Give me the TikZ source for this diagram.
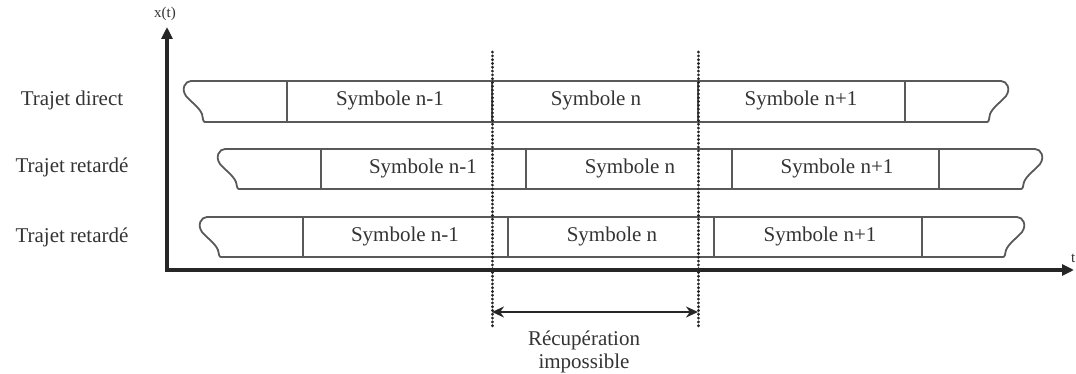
\documentclass[tikz,border=0pt]{standalone}
\usepackage{fontspec}
\setmainfont{Liberation Serif}
\usetikzlibrary{arrows.meta}
\newcommand\sigrow[4]{% top, bottom, left-most x, right-most x
\draw[boxline] ({#3+8},#1) -- ({#4-8},#1)
  .. controls ({#4-2},#1) and ({#4+2},{#1+8}) .. ({#4-3},{#1+15})
  .. controls ({#4-8},{#1+21}) and ({#4-16},{#1+26}) .. ({#4-19},{#1+33})
  .. controls ({#4-20},{#2-3}) and ({#4-20},#2) .. ({#4-22},#2)
  -- ({#3+22},#2)
  .. controls ({#3+20},#2) and ({#3+20},{#2-3}) .. ({#3+19},{#1+33})
  .. controls ({#3+16},{#1+26}) and ({#3+8},{#1+21}) .. ({#3+3},{#1+15})
  .. controls ({#3-2},{#1+8}) and ({#3+2},#1) .. cycle;}
\begin{document}
\begin{tikzpicture}[x=1pt,y=-1pt,
  boxline/.style={draw=black!65,line width=1.8pt},
  sym/.style={font=\fontsize{21}{24}\selectfont,text=black!80,inner sep=0pt},
  lab/.style={font=\fontsize{21}{24}\selectfont,text=black!80,inner sep=0pt},
  axis/.style={draw=black!85,line width=3.6pt,-{Triangle[length=12pt,width=11pt]}},
  dotline/.style={draw=black!85,line width=3pt,line cap=round,dash pattern=on 0.2pt off 3.6pt},
  gap/.style={draw=black!85,line width=2.8pt,{Stealth[length=12pt,width=11pt]}-{Stealth[length=12pt,width=11pt]}}]
\useasboundingbox (0,0) rectangle (1076,374);
% rows
\sigrow{81}{122}{183}{1009}
\foreach \x in {287,492,698,905} \draw[boxline] (\x,81) -- (\x,122);
\sigrow{149}{189}{217}{1043}
\foreach \x in {321,526,732,939} \draw[boxline] (\x,149) -- (\x,189);
\sigrow{217}{257}{199}{1025}
\foreach \x in {303,508,714,922} \draw[boxline] (\x,217) -- (\x,257);
% symbol texts
\node[sym] (a1) at (390,100) {Symbole n-1};
\node[sym] (a2) at (596,100) {Symbole n};
\node[sym] (a3) at (801,100) {Symbole n+1};
\node[sym] (b1) at (423,168) {Symbole n-1};
\node[sym] (b2) at (630,168) {Symbole n};
\node[sym] (b3) at (837,168) {Symbole n+1};
\node[sym] (c1) at (405,236) {Symbole n-1};
\node[sym] (c2) at (612,236) {Symbole n};
\node[sym] (c3) at (820,236) {Symbole n+1};
% row labels
\node[lab] (l1) at (72,100) {Trajet direct};
\node[lab] (l2) at (72,167) {Trajet retardé};
\node[lab] (l3) at (72,237) {Trajet retardé};
% axes
\coordinate (o) at (167,270);
\coordinate (ytop) at (167,27);
\coordinate (xend) at (1074,270);
\draw[axis] (o) -- (ytop);
\draw[axis] ([xshift=-1.8pt]o) -- (xend);
\node[font=\fontsize{15}{17}\selectfont,text=black!80,inner sep=0pt] (xt) at (165,14) {x(t)};
\node[font=\fontsize{15}{17}\selectfont,text=black!80,inner sep=0pt,anchor=west] (tl) at (1071,258) {t};
% dotted limits
\coordinate (d1t) at (492,52);
\coordinate (d1b) at (492,327);
\coordinate (d2t) at (698,52);
\coordinate (d2b) at (698,327);
\draw[dotline] (d1t) -- (d1b);
\draw[dotline] (d2t) -- (d2b);
\coordinate (g1) at (492,312);
\coordinate (g2) at (698,312);
\draw[gap] (g1) -- (g2);
\node[lab,align=center] (rec) at (584,352) {Récupération\\[-1pt]impossible};
\end{tikzpicture}
\end{document}
